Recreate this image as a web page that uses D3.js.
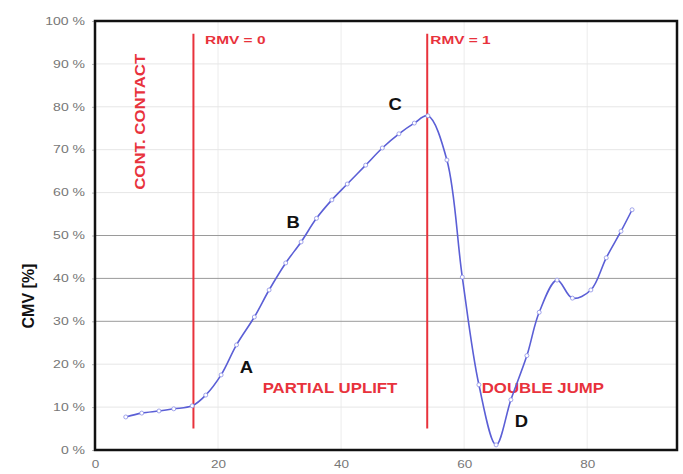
<!DOCTYPE html>
<html>
<head>
<meta charset="utf-8">
<script src="https://cdn.jsdelivr.net/npm/d3@7"></script>
<style>
  body { margin: 0; background: #fff; }
  text { font-family: "Liberation Sans", Arial, sans-serif; }
</style>
</head>
<body>
<script>
// curve readings (x, CMV %)
var xs = [5, 7.6, 10.4, 12.8, 15.8, 18, 20.5, 23, 25.9, 28.3, 31, 33.5, 36, 38.5, 41, 44, 46.7, 49.4, 51.9, 54.1,
          57.2, 59.7, 62.4, 65.2, 67.6, 70.2, 72.2, 75.1, 77.6, 80.6, 83.1, 85.5, 87.3];
var cmv = [7.7, 8.6, 9.1, 9.6, 10.3, 12.8, 17.5, 24.5, 31, 37.3, 43.6, 48.5, 54, 58.3, 62, 66.4, 70.4, 73.7, 76.2, 77.9,
           67.6, 40.3, 15.2, 1.2, 11.7, 22, 32.1, 39.6, 35.4, 37.3, 44.8, 51, 56];
var yTicks = [0, 10, 20, 30, 40, 50, 60, 70, 80, 90, 100];
var xTicks = [0, 20, 40, 60, 80];
var rmvLines = [16, 54];
var rmvLabels = ["RMV = 0", "RMV = 1"];
var rmvLabelX = [17.9, 54.5];
var pointLetters = ["A", "B", "C", "D"];
var letterPos = [[24.6, 18], [32.2, 51.7], [48.8, 79.3], [69.3, 5.4]];
var zoneLabels = ["PARTIAL UPLIFT", "DOUBLE JUMP"];
var zonePos = [[38.2, 13.2], [72.8, 13.2]];

var svg = d3.select("body").append("svg")
    .attr("width", 683)
    .attr("height", 474);

var pLeft = 95, pTop = 21, pRight = 677, pBottom = 450;

var x = d3.scaleLinear().domain([0, 94.6]).range([pLeft, pRight]);
var y = d3.scaleLinear().domain([0, 100]).range([pBottom, pTop]);

// the source image is stretched sideways, so widen horizontal text a bit
var widen = function(sel, k){
	sel.each(function(){
		var w = this.getComputedTextLength();
		d3.select(this).attr("textLength", w * k).attr("lengthAdjust", "spacingAndGlyphs");
	});
};

// grid
svg.append("g").selectAll("line").data(xTicks.slice(1))
  .enter().append("line")
    .attr("x1", function(d){ return x(d); })
    .attr("x2", function(d){ return x(d); })
    .attr("y1", pTop).attr("y2", pBottom)
    .attr("stroke", "#ececec").attr("stroke-width", 1);

svg.append("g").selectAll("line").data(yTicks.slice(1, 10))
  .enter().append("line")
    .attr("x1", pLeft).attr("x2", pRight)
    .attr("y1", function(d){ return y(d); })
    .attr("y2", function(d){ return y(d); })
    .attr("stroke", function(d){ return (d >= 30 && d <= 50) ? "#9a9a9a" : "#e6e6e6"; })
    .attr("stroke-width", 1);

// axes
var yAxis = d3.axisLeft(y).tickValues(yTicks).tickSize(3).tickPadding(7)
    .tickFormat(function(d){ return d + " %"; });
var gy = svg.append("g").attr("transform", "translate(" + pLeft + ",0)").call(yAxis);
gy.select(".domain").remove();
gy.selectAll(".tick line").attr("stroke", "#bbb");
gy.selectAll(".tick text").attr("fill", "#777").style("font-size", "10px");
widen(gy.selectAll(".tick text"), 1.4);

var xAxis = d3.axisBottom(x).tickValues(xTicks).tickSize(0).tickPadding(11);
var gx = svg.append("g").attr("transform", "translate(0," + pBottom + ")").call(xAxis);
gx.select(".domain").remove();
gx.selectAll(".tick text").attr("fill", "#777").style("font-size", "10px");
widen(gx.selectAll(".tick text"), 1.35);

svg.append("text")
    .attr("transform", "translate(34,296) rotate(-90)")
    .attr("text-anchor", "middle")
    .style("font-size", "16px").style("font-weight", "bold")
    .attr("fill", "#111")
    .text("CMV [%]");

// red markers
svg.append("g").selectAll("line").data(rmvLines)
  .enter().append("line")
    .attr("x1", function(d){ return x(d); })
    .attr("x2", function(d){ return x(d); })
    .attr("y1", y(97)).attr("y2", y(5))
    .attr("stroke", "#e8323c").attr("stroke-width", 2);

var rmvText = svg.append("g").selectAll("text").data(rmvLabels)
  .enter().append("text")
    .attr("x", function(d, i){ return x(rmvLabelX[i]); })
    .attr("y", y(94.6))
    .style("font-size", "11px").style("font-weight", "bold")
    .attr("fill", "#e8323c")
    .text(function(d){ return d; });
widen(rmvText, 1.4);

var cc = svg.append("text")
    .attr("transform", "translate(" + (x(8.2)) + "," + y(76.5) + ") rotate(-90)")
    .attr("text-anchor", "middle")
    .style("font-size", "14px").style("font-weight", "bold")
    .attr("fill", "#e8323c")
    .text("CONT. CONTACT");
widen(cc, 1.2);

var zt = svg.append("g").selectAll("text").data(zoneLabels)
  .enter().append("text")
    .attr("x", function(d, i){ return x(zonePos[i][0]); })
    .attr("y", function(d, i){ return y(zonePos[i][1]); })
    .attr("text-anchor", "middle")
    .style("font-size", "14px").style("font-weight", "bold")
    .attr("fill", "#e8323c")
    .text(function(d){ return d; });
widen(zt, 1.2);

// curve
var pts = xs.map(function(d, i){ return [d, cmv[i]]; });
var line = d3.line()
    .x(function(d){ return x(d[0]); })
    .y(function(d){ return y(d[1]); })
    .curve(d3.curveCatmullRom.alpha(0.5));

svg.append("path").datum(pts)
    .attr("d", line)
    .attr("fill", "none")
    .attr("stroke", "#5b5fd6")
    .attr("stroke-width", 1.6);

svg.append("g").selectAll("circle").data(pts)
  .enter().append("circle")
    .attr("cx", function(d){ return x(d[0]); })
    .attr("cy", function(d){ return y(d[1]); })
    .attr("r", 2)
    .attr("fill", "#fff")
    .attr("stroke", "#8a8ee6")
    .attr("stroke-width", 0.8);

var lt = svg.append("g").selectAll("text").data(pointLetters)
  .enter().append("text")
    .attr("x", function(d, i){ return x(letterPos[i][0]); })
    .attr("y", function(d, i){ return y(letterPos[i][1]); })
    .attr("text-anchor", "middle")
    .style("font-size", "16px").style("font-weight", "bold")
    .attr("fill", "#111")
    .text(function(d){ return d; });
widen(lt, 1.15);

// frame
svg.append("rect")
    .attr("x", pLeft).attr("y", pTop)
    .attr("width", pRight - pLeft).attr("height", pBottom - pTop)
    .attr("fill", "none")
    .attr("stroke", "#111")
    .attr("stroke-width", 2.5);
</script>
</body>
</html>
